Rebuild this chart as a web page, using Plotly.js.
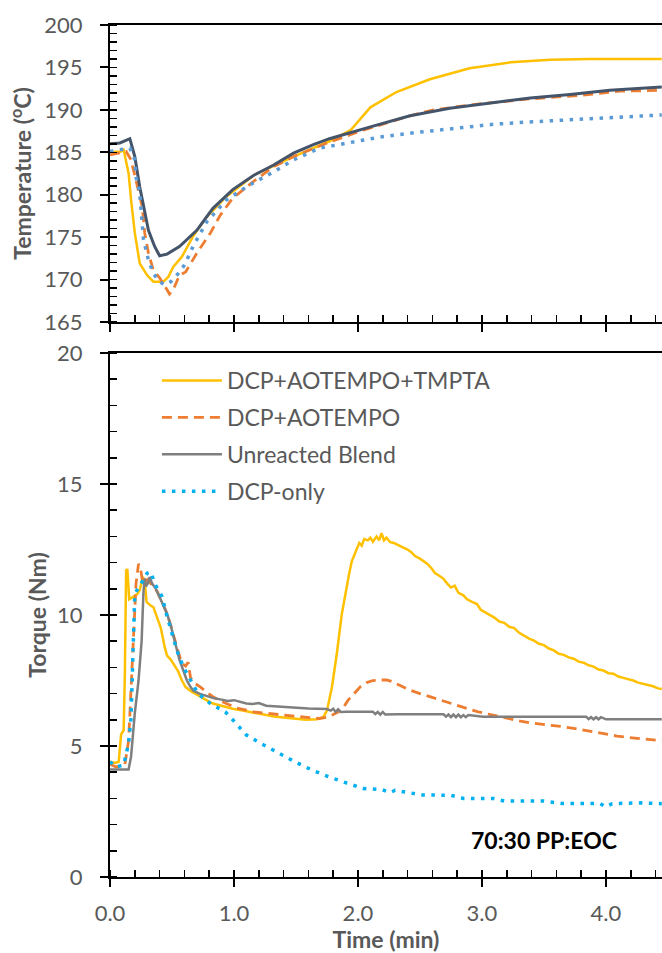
<!DOCTYPE html>
<html>
<head>
<meta charset="utf-8">
<script src="https://cdn.plot.ly/plotly-3.0.1.min.js"></script>
<style>
  html, body { margin: 0; padding: 0; background: #fff; }
  #chart { width: 662px; height: 953px; }
</style>
</head>
<body>
<div id="chart"></div>
<script>
// Series names
const names = ["DCP+AOTEMPO+TMPTA", "DCP+AOTEMPO", "Unreacted Blend", "DCP-only"];

// ---- Melt temperature (°C) vs time (min) ----
const tTempTmpta = [0, 0.09, 0.11, 0.15, 0.17, 0.20, 0.24, 0.30, 0.35, 0.43, 0.47, 0.51, 0.58, 0.67, 0.78, 0.94, 1.16, 1.48, 1.77, 1.94, 2.10, 2.31, 2.58, 2.90, 3.23, 3.55, 3.87, 4.45];
const tempTmpta  = [185.0, 185.1, 185.3, 182.5, 179.4, 175.5, 171.9, 170.5, 169.75, 169.75, 170.3, 171.5, 172.7, 175.1, 177.4, 179.8, 182.3, 184.5, 186.3, 187.6, 190.3, 192.1, 193.6, 194.9, 195.6, 195.9, 196.0, 196.0];

const tTempAotempo = [0, 0.08, 0.13, 0.17, 0.21, 0.26, 0.28, 0.31, 0.35, 0.40, 0.46, 0.48, 0.51, 0.56, 0.61, 0.70, 0.81, 0.89, 0.99, 1.16, 1.32, 1.48, 1.77, 2.04, 2.42, 2.61, 2.98, 3.39, 3.79, 4.11, 4.45];
const tempAotempo  = [184.7, 184.9, 185.1, 184.1, 181.7, 178.6, 175.5, 173.1, 171.1, 170.2, 168.8, 168.3, 168.8, 170.5, 170.9, 173.1, 175.5, 177.6, 179.6, 181.6, 183.3, 184.5, 186.2, 187.6, 189.3, 190.0, 190.7, 191.3, 191.7, 192.2, 192.3];

const tTempBlend = [0, 0.08, 0.16, 0.20, 0.24, 0.28, 0.31, 0.36, 0.40, 0.46, 0.56, 0.70, 0.83, 0.99, 1.16, 1.32, 1.48, 1.64, 1.77, 2.10, 2.42, 2.74, 3.06, 3.39, 3.71, 4.03, 4.45];
const tempBlend  = [186.0, 186.1, 186.6, 184.5, 180.9, 177.8, 175.8, 173.9, 172.8, 173.0, 173.9, 175.8, 178.4, 180.6, 182.3, 183.5, 184.9, 185.9, 186.6, 188.0, 189.3, 190.2, 190.8, 191.4, 191.8, 192.3, 192.7];

const tTempDcp = [0, 0.08, 0.16, 0.20, 0.21, 0.24, 0.26, 0.27, 0.31, 0.35, 0.40, 0.44, 0.49, 0.55, 0.60, 0.67, 0.78, 0.94, 1.12, 1.32, 1.48, 1.69, 1.77, 1.94, 2.18, 2.45, 2.77, 3.09, 3.41, 3.76, 4.09, 4.45];
const tempDcp  = [185.1, 185.3, 185.5, 184.1, 182.1, 180.2, 177.0, 174.7, 172.3, 170.7, 169.75, 169.4, 169.75, 170.7, 171.7, 173.9, 176.8, 179.4, 181.1, 182.7, 184.1, 185.5, 185.7, 186.2, 186.8, 187.3, 187.8, 188.3, 188.6, 188.9, 189.1, 189.4];

// ---- Mixing torque (Nm) vs time (min) ----
const tTorqueTmpta = [0, 0.04, 0.07, 0.09, 0.11, 0.12, 0.13, 0.14, 0.155, 0.19, 0.22, 0.24, 0.265, 0.28, 0.295, 0.33, 0.35, 0.38, 0.41, 0.44, 0.46, 0.49, 0.52, 0.55, 0.58, 0.61, 0.65, 0.70, 0.76, 0.83, 0.90, 0.99, 1.07, 1.16, 1.24, 1.32, 1.40, 1.48, 1.58, 1.67, 1.72, 1.75, 1.79, 1.83, 1.87, 1.91, 1.93, 1.95, 1.97, 1.99, 2.01, 2.03, 2.05, 2.08, 2.10, 2.12, 2.15, 2.17, 2.19, 2.21, 2.23, 2.26, 2.29, 2.32, 2.36, 2.40, 2.43, 2.46, 2.50, 2.53, 2.56, 2.59, 2.62, 2.65, 2.69, 2.72, 2.75, 2.78, 2.81, 2.85, 2.88, 2.92, 2.96, 2.99, 3.03, 3.07, 3.10, 3.14, 3.18, 3.22, 3.26, 3.30, 3.34, 3.38, 3.42, 3.46, 3.50, 3.54, 3.58, 3.62, 3.66, 3.70, 3.74, 3.78, 3.82, 3.86, 3.90, 3.94, 3.98, 4.02, 4.06, 4.10, 4.14, 4.18, 4.22, 4.26, 4.30, 4.34, 4.38, 4.42, 4.45];
const torqueTmpta  = [4.4, 4.35, 4.4, 5.45, 5.6, 7.8, 11.7, 11.75, 10.6, 10.7, 10.8, 10.95, 11.45, 11.3, 10.5, 10.35, 10.3, 9.9, 9.5, 8.8, 8.45, 8.3, 8.05, 7.85, 7.5, 7.25, 7.1, 6.95, 6.8, 6.62, 6.52, 6.42, 6.35, 6.26, 6.2, 6.13, 6.08, 6.05, 6.0, 6.02, 6.1, 6.35, 7.25, 8.55, 10.05, 11.2, 11.6, 12.05, 12.3, 12.5, 12.75, 12.65, 12.9, 12.85, 12.95, 12.8, 13.0, 12.85, 13.12, 12.85, 12.95, 12.78, 12.75, 12.68, 12.6, 12.5, 12.4, 12.25, 12.15, 12.05, 11.95, 11.8, 11.6, 11.52, 11.38, 11.2, 11.05, 11.12, 10.85, 10.75, 10.6, 10.5, 10.42, 10.2, 10.1, 9.98, 9.9, 9.75, 9.7, 9.55, 9.5, 9.32, 9.2, 9.1, 9.02, 8.9, 8.85, 8.72, 8.65, 8.52, 8.48, 8.38, 8.33, 8.22, 8.18, 8.08, 8.03, 7.92, 7.88, 7.78, 7.76, 7.65, 7.6, 7.55, 7.5, 7.42, 7.38, 7.32, 7.28, 7.2, 7.18];

const tTorqueAotempo = [0, 0.05, 0.09, 0.12, 0.15, 0.17, 0.19, 0.21, 0.23, 0.245, 0.265, 0.30, 0.33, 0.38, 0.42, 0.46, 0.49, 0.52, 0.55, 0.58, 0.61, 0.63, 0.65, 0.68, 0.73, 0.78, 0.83, 0.90, 0.97, 1.02, 1.09, 1.16, 1.24, 1.32, 1.42, 1.53, 1.61, 1.69, 1.75, 1.80, 1.84, 1.88, 1.92, 1.95, 1.99, 2.02, 2.07, 2.12, 2.18, 2.23, 2.27, 2.31, 2.36, 2.42, 2.50, 2.58, 2.66, 2.74, 2.82, 2.90, 2.97, 3.05, 3.14, 3.23, 3.31, 3.39, 3.47, 3.55, 3.65, 3.74, 3.82, 3.90, 4.00, 4.09, 4.18, 4.27, 4.36, 4.45];
const torqueAotempo  = [4.3, 4.2, 4.25, 4.3, 5.2, 7.1, 9.2, 11.2, 11.95, 11.8, 11.2, 11.35, 11.2, 10.9, 10.5, 10.05, 9.6, 9.05, 8.6, 8.15, 8.05, 8.2, 7.6, 7.4, 7.25, 7.05, 6.88, 6.7, 6.56, 6.45, 6.38, 6.3, 6.26, 6.22, 6.17, 6.1, 6.08, 6.05, 6.1, 6.2, 6.3, 6.45, 6.75, 6.9, 7.1, 7.27, 7.42, 7.5, 7.52, 7.52, 7.47, 7.38, 7.25, 7.13, 7.0, 6.88, 6.75, 6.62, 6.5, 6.4, 6.3, 6.22, 6.12, 6.02, 5.95, 5.88, 5.84, 5.8, 5.74, 5.67, 5.6, 5.53, 5.45, 5.38, 5.33, 5.28, 5.24, 5.2];

const tTorqueBlend = [0, 0.08, 0.15, 0.17, 0.20, 0.23, 0.255, 0.27, 0.28, 0.29, 0.305, 0.32, 0.34, 0.37, 0.40, 0.43, 0.46, 0.49, 0.51, 0.54, 0.56, 0.59, 0.62, 0.65, 0.67, 0.72, 0.78, 0.84, 0.89, 0.95, 1.00, 1.05, 1.10, 1.15, 1.20, 1.26, 1.32, 1.38, 1.45, 1.53, 1.60, 1.67, 1.75, 1.78, 1.80, 1.82, 1.84, 1.86, 1.91, 2.12, 2.14, 2.16, 2.18, 2.20, 2.22, 2.31, 2.69, 2.71, 2.73, 2.75, 2.77, 2.79, 2.81, 2.83, 2.85, 2.87, 2.89, 3.01, 3.84, 3.86, 3.88, 3.90, 3.92, 3.94, 3.96, 4.00, 4.45];
const torqueBlend  = [4.1, 4.1, 4.1, 4.6, 6.25, 7.5, 9.0, 10.9, 11.4, 11.1, 11.2, 11.45, 11.2, 11.0, 10.7, 10.4, 10.05, 9.6, 9.2, 8.7, 8.3, 7.9, 7.5, 7.25, 7.12, 7.0, 6.9, 6.82, 6.78, 6.72, 6.75, 6.68, 6.62, 6.6, 6.64, 6.54, 6.52, 6.5, 6.46, 6.43, 6.43, 6.42, 6.41, 6.35, 6.42, 6.3, 6.4, 6.3, 6.31, 6.31, 6.22, 6.3, 6.2, 6.3, 6.2, 6.21, 6.21, 6.12, 6.2, 6.1, 6.2, 6.1, 6.2, 6.1, 6.18, 6.1, 6.18, 6.12, 6.12, 6.03, 6.1, 6.02, 6.1, 6.02, 6.1, 6.02, 6.02];

const tTorqueDcp = [0, 0.05, 0.11, 0.15, 0.17, 0.185, 0.19, 0.20, 0.23, 0.25, 0.30, 0.33, 0.36, 0.42, 0.46, 0.50, 0.54, 0.59, 0.65, 0.71, 0.81, 0.93, 0.99, 1.10, 1.24, 1.36, 1.49, 1.63, 1.76, 1.90, 2.04, 2.19, 2.26, 2.30, 2.52, 2.75, 2.85, 3.09, 3.18, 3.50, 3.64, 3.95, 4.00, 4.05, 4.29, 4.45];
const torqueDcp  = [4.4, 4.2, 4.27, 5.1, 6.1, 8.0, 9.3, 10.8, 11.08, 11.2, 11.6, 11.65, 11.2, 10.7, 9.95, 9.3, 8.65, 8.03, 7.5, 7.0, 6.62, 6.3, 6.0, 5.42, 5.04, 4.72, 4.4, 4.08, 3.83, 3.6, 3.38, 3.34, 3.22, 3.31, 3.13, 3.12, 3.0, 3.0, 2.9, 2.9, 2.81, 2.81, 2.68, 2.8, 2.83, 2.8];

// Axis settings
const xRange = [0, 4.452];
const tempRange = [165, 200];
const torqueRange = [0, 20];
const xTickVals = [0, 1, 2, 3, 4];
const xTickText = ["0.0", "1.0", "2.0", "3.0", "4.0"];

const FONT = "Lato, 'Open Sans', sans-serif";
const GREY_TXT = "#595959";

const dotted = "3.5px,6.5px";
const dashed = "10px,6px";

const traces = [
  // temperature panel
  {x: tTempTmpta, y: tempTmpta, xaxis: "x2", yaxis: "y2", mode: "lines", showlegend: false,
   line: {color: "#FFC000", width: 2.5}},
  {x: tTempAotempo, y: tempAotempo, xaxis: "x2", yaxis: "y2", mode: "lines", showlegend: false,
   line: {color: "#ED7D31", width: 2.8, dash: dashed}},
  {x: tTempBlend, y: tempBlend, xaxis: "x2", yaxis: "y2", mode: "lines", showlegend: false,
   line: {color: "#44546A", width: 3}},
  {x: tTempDcp, y: tempDcp, xaxis: "x2", yaxis: "y2", mode: "lines", showlegend: false,
   line: {color: "#5B9BD5", width: 3.5, dash: dotted}},
  // torque panel
  {x: tTorqueTmpta, y: torqueTmpta, name: names[0], legendgroup: "a", mode: "lines",
   line: {color: "#FFC000", width: 2.5}},
  {x: tTorqueAotempo, y: torqueAotempo, name: names[1], legendgroup: "b", mode: "lines",
   line: {color: "#ED7D31", width: 2.8, dash: dashed}},
  {x: tTorqueBlend, y: torqueBlend, name: names[2], legendgroup: "c", mode: "lines",
   line: {color: "#7F7F7F", width: 2.5}},
  {x: tTorqueDcp, y: torqueDcp, name: names[3], legendgroup: "d", mode: "lines",
   line: {color: "#00B0F0", width: 3.5, dash: dotted}}
];

const tickFont = {family: FONT, size: 22, color: GREY_TXT};
const titleFont = {family: FONT, size: 23, color: GREY_TXT, weight: "bold"};

function baseX(extra) {
  return Object.assign({
    range: xRange, tickvals: xTickVals, ticktext: xTickText,
    ticks: "outside", ticklen: 8, tickwidth: 2, tickcolor: "#000",
    minor: {ticks: "inside", dtick: 0.2, tick0: 0, ticklen: 7, tickwidth: 1.5, tickcolor: "#000", showgrid: false},
    showline: true, linewidth: 2, linecolor: "#000", mirror: true,
    showgrid: false, zeroline: false, tickfont: tickFont, ticklabelstandoff: 8, fixedrange: true
  }, extra);
}
function baseY(range, dtick, extra) {
  return Object.assign({
    range: range, dtick: dtick, tick0: range[0],
    ticks: "outside", ticklen: 8, tickwidth: 2, tickcolor: "#000",
    minor: {ticks: "inside", dtick: 1, tick0: range[0], ticklen: 7, tickwidth: 1.5, tickcolor: "#000", showgrid: false},
    showline: true, linewidth: 2, linecolor: "#000",
    showgrid: false, zeroline: false, tickfont: tickFont, ticklabelstandoff: 13, fixedrange: true
  }, extra);
}
// overlay axes supply the inner half of the crossing major ticks
function innerTicks(extra) {
  return Object.assign({
    ticks: "inside", ticklen: 7, tickwidth: 2, tickcolor: "#000",
    showticklabels: false, showline: false, showgrid: false, zeroline: false, fixedrange: true
  }, extra);
}

const botTop = 0.615, topBot = 0.6514;

const layout = {
  width: 662, height: 953,
  margin: {l: 110, r: 0, t: 25, b: 76},
  paper_bgcolor: "#fff", plot_bgcolor: "#fff",
  font: {family: FONT, color: GREY_TXT},
  showlegend: true,
  legend: {
    x: 0.085, y: 0.608, xanchor: "left", yanchor: "top",
    font: {family: FONT, size: 23, color: GREY_TXT},
    bgcolor: "rgba(0,0,0,0)", borderwidth: 0,
    traceorder: "grouped", tracegroupgap: 4, itemwidth: 60
  },
  xaxis: baseX({domain: [0, 1], anchor: "y",
    title: {text: "Time (min)", font: titleFont, standoff: 8}}),
  yaxis: baseY(torqueRange, 5, {domain: [0, botTop], anchor: "x",
    title: {text: "Torque (Nm)", font: titleFont, standoff: 4}}),
  xaxis2: baseX({domain: [0, 1], anchor: "y2", showticklabels: false}),
  yaxis2: baseY(tempRange, 5, {domain: [topBot, 1], anchor: "x2",
    title: {text: "Temperature (<sup>o</sup>C)", font: titleFont, standoff: 6}}),
  xaxis3: innerTicks({overlaying: "x", anchor: "y", range: xRange, tickvals: xTickVals}),
  yaxis3: innerTicks({overlaying: "y", anchor: "x", range: torqueRange, dtick: 5, tick0: 0}),
  xaxis4: innerTicks({overlaying: "x2", anchor: "y2", range: xRange, tickvals: xTickVals}),
  yaxis4: innerTicks({overlaying: "y2", anchor: "x2", range: tempRange, dtick: 5, tick0: 165}),
  annotations: [{
    x: 3.5, y: 1.4, xref: "x", yref: "y", showarrow: false,
    text: "<b>70:30 PP:EOC</b>", font: {family: FONT, size: 23, color: "#000"}
  }]
};

Plotly.newPlot("chart", traces, layout, {displayModeBar: false, staticPlot: true});
</script>
</body>
</html>
